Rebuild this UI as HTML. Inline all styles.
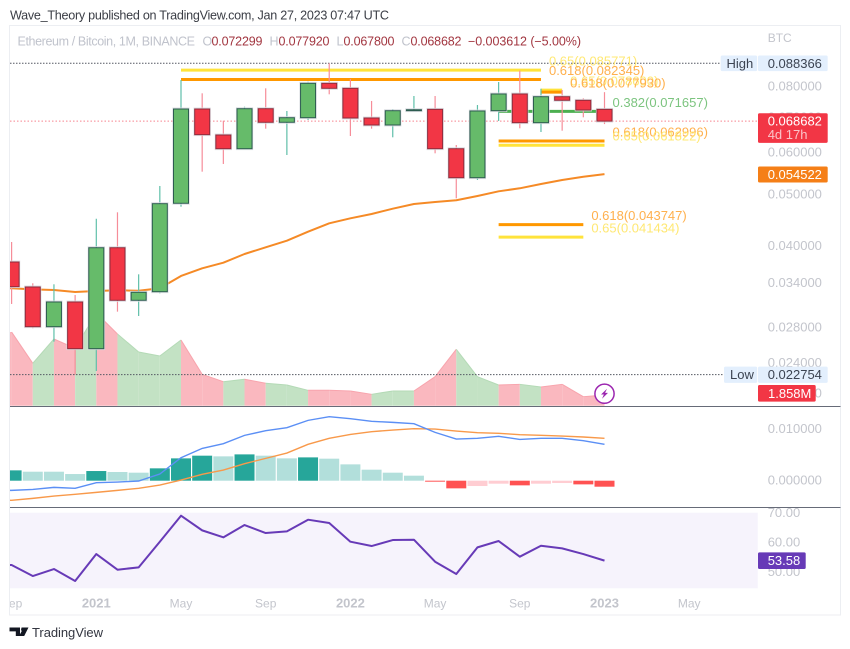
<!DOCTYPE html>
<html lang="en">
<head>
<meta charset="utf-8">
<title>Ethereum / Bitcoin chart</title>
<style>
html,body{margin:0;padding:0;background:#fff;width:850px;height:649px;overflow:hidden}
svg{display:block;font-family:"Liberation Sans",sans-serif;filter:blur(0.35px)}
</style>
</head>
<body>
<svg id="chart" xmlns="http://www.w3.org/2000/svg" width="850" height="649" viewBox="0 0 850 649">
  <defs>
    <clipPath id="pane-clip"><rect x="10" y="25" width="748" height="590"></rect></clipPath>
    <clipPath id="axis-clip"><rect x="10" y="590" width="748" height="25"></rect></clipPath>
  </defs>
  <rect x="0" y="0" width="850" height="649" fill="#ffffff"></rect>
  <text x="10" y="19.5" font-size="12.6" fill="#3a3d45" textLength="379" lengthAdjust="spacing">Wave_Theory published on TradingView.com, Jan 27, 2023 07:47 UTC</text>
  <rect x="9.5" y="25.5" width="831" height="589.5" fill="#ffffff" stroke="#eceef2"></rect>
  <rect x="10" y="512.7" width="747.7" height="75.6" fill="#f6f3fc"></rect>
  <g id="plots" clip-path="url(#pane-clip)"></g>
  <line x1="10" x2="840.5" y1="406.5" y2="406.5" stroke="#666b78" stroke-width="1"></line>
  <line x1="10" x2="840.5" y1="507.5" y2="507.5" stroke="#666b78" stroke-width="1"></line>
  <g id="axes"></g>
  <g font-size="12.5">
    <text x="17.5" y="45.5" fill="#c0c3cc" textLength="177.5" lengthAdjust="spacing">Ethereum / Bitcoin, 1M, BINANCE</text>
    <text x="202.5" y="45.5" fill="#c0c3cc">O</text>
    <text x="211.5" y="45.5" fill="#a23640" textLength="51">0.072299</text>
    <text x="269.5" y="45.5" fill="#c0c3cc">H</text>
    <text x="278.5" y="45.5" fill="#a23640" textLength="51">0.077920</text>
    <text x="336.5" y="45.5" fill="#c0c3cc">L</text>
    <text x="343.5" y="45.5" fill="#a23640" textLength="51">0.067800</text>
    <text x="401.5" y="45.5" fill="#c0c3cc">C</text>
    <text x="410.5" y="45.5" fill="#a23640" textLength="51">0.068682</text>
    <text x="468" y="45.5" fill="#a23640" textLength="113">−0.003612 (−5.00%)</text>
  </g>
  <g>
    <path d="M9.5 627.5h10.5v8.5h-4.2v-4.6h-6.3z M21.5 627.5h7l-4.3 8.5h-5.2l2.6-4.6z" fill="#131722"></path>
    <circle cx="23" cy="629.4" r="1.9" fill="#131722"></circle>
    <text x="32" y="637" font-size="13" fill="#333640" textLength="71" lengthAdjust="spacing">TradingView</text>
  </g>
</svg>
<script>
// ---- candle data (Sep 2020 .. Jan 2023, monthly) ----
const months = ['Sep20','Oct20','Nov20','Dec20','Jan21','Feb21','Mar21','Apr21','May21','Jun21','Jul21','Aug21','Sep21','Oct21','Nov21','Dec21','Jan22','Feb22','Mar22','Apr22','May22','Jun22','Jul22','Aug22','Sep22','Oct22','Nov22','Dec22','Jan23'];
const opens = [.03717,.03334,.02804,.03123,.02548,.03956,.03146,.03266,.04801,.07240,.06465,.06090,.07250,.06833,.06971,.08098,.07923,.06962,.06753,.07187,.07230,.06090,.05367,.07187,.07730,.06821,.07639,.07520,.072299];
const highs = [.04056,.03388,.03373,.03219,.04489,.04616,.03523,.05177,.08215,.07753,.06880,.07313,.07923,.07178,.08155,.08837,.08251,.07498,.07240,.07662,.07662,.06189,.07367,.08144,.08555,.07910,.07865,.07586,.07792];
const lows = [.03096,.02785,.02627,.02275,.02312,.02994,.02938,.03243,.04730,.05510,.05698,.06090,.06645,.05925,.06902,.07719,.06437,.06645,.06400,.07187,.05969,.04906,.05314,.06871,.06656,.06550,.06587,.06983,.06780];
const closes = [.03338,.02804,.03123,.02548,.03956,.03146,.03258,.04793,.07240,.06474,.06090,.07250,.06833,.06971,.08098,.07923,.06962,.06753,.07187,.07218,.06090,.05367,.07178,.07730,.06821,.07639,.07520,.07209,.068682];
const movingAverage = [.03315,.03300,.03290,.03262,.03276,.03286,.03280,.03315,.03498,.03617,.03706,.03849,.03963,.04079,.04242,.04400,.04497,.04582,.04689,.04786,.04828,.04864,.04956,.05058,.05125,.05222,.05314,.05390,.05452];
const volumes = [13.0,7.47,11.77,10.12,16.37,12.65,9.47,8.76,11.59,5.52,4.21,4.64,3.93,3.63,2.69,2.69,2.57,1.98,2.57,2.57,5.10,9.95,5.10,3.63,3.75,3.27,3.75,1.56,1.858];
// ---- MACD ----
const macdLine = [-.00187,-.00168,-.00129,-.00148,-.00039,-.00026,-.00006,.00129,.00445,.00625,.00716,.00877,.00967,.01025,.01167,.01238,.01199,.01148,.01128,.01103,.00935,.00806,.00819,.00858,.00799,.00819,.00819,.00774,.00703];
const signalLine = [-.00380,-.00342,-.00297,-.00264,-.00226,-.00187,-.00148,-.00084,.00013,.00123,.00206,.00329,.00432,.00535,.00703,.00819,.00896,.00948,.00980,.01006,.00999,.00961,.00928,.00916,.00890,.00877,.00864,.00845,.00819];
const macdHist = [.00200,.00174,.00174,.00129,.00187,.00168,.00155,.00239,.00432,.00484,.00471,.00509,.00484,.00432,.00451,.00426,.00316,.00213,.00155,.00097,-.00019,-.00148,-.00103,-.00058,-.00090,-.00058,-.00045,-.00071,-.00116];
// ---- RSI ----
const rsiValues = [52.09,48.36,50.73,46.67,55.82,50.51,51.30,60.0,68.81,63.84,61.47,65.65,62.94,63.50,67.46,66.33,60.0,58.53,60.56,60.68,53.22,49.04,58.08,60.23,54.92,58.64,57.74,55.82,53.58];
// ---- Fibonacci levels ----
const fibPrices = [.085771,.082345,.0786,.07793,.071657,.062996,.061822,.043747,.041434];
const fibLabels = ['0.65(0.085771)','0.618(0.082345)','0.65(0.078600)','0.618(0.077930)','0.382(0.071657)','0.618(0.062996)','0.65(0.061822)','0.618(0.043747)','0.65(0.041434)'];
const fibKinds = ['gold','orange','gold','orange','green','orange','gold','orange','gold'];
const fibStart = [8,8,25,25,23,23,23,23,23];
const fibEnd = [25,25,26,26,28,28,28,27,27];
// ---- axis labels ----
const priceTicks = [.08,.07,.06,.05,.04,.034,.028,.024,.021];
const macdTicks = [.01,0];
const rsiTicks = [70,60,50];
const timeTickIndex = [0,4,8,12,16,20,24,28,32];
const timeTickLabels = ['Sep','2021','May','Sep','2022','May','Sep','2023','May'];
const timeTickBold = [false,true,false,false,true,false,false,true,false];
const highPrice = 0.088366;
const lowPrice = 0.022754;
const lastPrice = 0.068682;
const maLast = 0.054522;
const lastVolume = 1.858;
const lastRsi = 53.58;

// ---- axis functions ----
const xAt = i => 11.6 + 21.175 * i;
const yPrice = p => 86.1 + 229.5 * Math.log(0.08 / p);
const yVol = v => 405.5 - 5.65 * v;
const yMacd = v => 480.7 - 5170 * v;
const yRsi = v => 541.7 - (v - 60) * 2.95;

const NS = 'http://www.w3.org/2000/svg';
const plots = document.getElementById('plots');
const axes = document.getElementById('axes');
function make(tag, parent, attrs) {
  const n = document.createElementNS(NS, tag);
  for (const k in attrs) n.setAttribute(k, attrs[k]);
  parent.appendChild(n);
  return n;
}
// the series continues past the left edge of the pane, so each line starts just off-screen
const linePath = (vals, yf) => 'M8 ' + yf(vals[0]).toFixed(2) + vals.map((v, i) => 'L' + xAt(i).toFixed(2) + ' ' + yf(v).toFixed(2)).join('');
let el;

// volume area, one segment per candle
el = make('path', plots, {d: `M8 405.8L8 ${yVol(volumes[0])}L${xAt(0)} ${yVol(volumes[0])}L${xAt(0)} 405.8Z`, fill: '#fab8bf'});


volumes.forEach((v, i) => {
  if (i === 0) return;
  const up = closes[i] >= opens[i];
  const x0 = xAt(i - 1), x1 = xAt(i);
  el = make('path', plots, {d: `M${x0} 405.8L${x0} ${yVol(volumes[i-1])}L${x1} ${yVol(v)}L${x1} 405.8Z`, fill: up ? '#c3e2c4' : '#fab8bf'});
  
  
  el = make('path', plots, {d: `M${x0} ${yVol(volumes[i-1])}L${x1} ${yVol(v)}`, fill: 'none', stroke: up ? '#b4dab6' : '#f8a4ad', 'stroke-width': 1});
  
  
});

// high / low / last price lines
el = make('line', plots, {x1: 10, x2: 721, y1: yPrice(highPrice), y2: yPrice(highPrice), stroke: '#555963', 'stroke-width': 1, 'stroke-dasharray': '1.5 1.5'});


el = make('line', plots, {x1: 10, x2: 724, y1: yPrice(lowPrice), y2: yPrice(lowPrice), stroke: '#555963', 'stroke-width': 1, 'stroke-dasharray': '1.5 1.5'});


el = make('line', plots, {x1: 10, x2: 758, y1: yPrice(lastPrice), y2: yPrice(lastPrice), stroke: '#f7848f', 'stroke-width': 1, 'stroke-dasharray': '1.5 2'});



// fib levels
const fibStroke = {gold: '#ffe33b', orange: '#ff9800', green: '#4caf50'};
const fibText = {gold: '#ffe873', orange: '#ffb04d', green: '#7cc47f'};
fibPrices.forEach((p, i) => {
  el = make('line', plots, {x1: xAt(fibStart[i]), x2: xAt(fibEnd[i]), y1: yPrice(p), y2: yPrice(p), stroke: fibStroke[fibKinds[i]], 'stroke-width': 3});
  
  
});

// moving average
el = make('path', plots, {d: linePath(movingAverage, yPrice), fill: 'none', stroke: '#f58a26', 'stroke-width': 2, 'stroke-linejoin': 'round'});



// candles
months.forEach((m, i) => {
  const up = closes[i] >= opens[i];
  const x = xAt(i);
  el = make('line', plots, {x1: x, x2: x, y1: yPrice(highs[i]), y2: yPrice(lows[i]), stroke: up ? '#5fbfa9' : '#f68d99', 'stroke-width': 1.2});
  
  
  const top = yPrice(Math.max(opens[i], closes[i]));
  const bot = yPrice(Math.min(opens[i], closes[i]));
  el = make('rect', plots, {x: x - 8.2, y: top - 1, width: 16.4, height: bot - top + 2, fill: 'none', stroke: '#d9dbe0', 'stroke-width': 0.8});
  
  
  el = make('rect', plots, {x: x - 7.5, y: top, width: 15, height: Math.max(bot - top, 0.6), fill: up ? '#66bb6a' : '#f23645', stroke: up ? '#2d5c50' : '#8e2c3c', 'stroke-width': 1});
  
  
});

// fib labels (above candles)
fibPrices.forEach((p, i) => {
  el = make('text', plots, {x: xAt(fibEnd[i]) + 8, y: yPrice(p) - 4.6, 'font-size': 13, fill: fibText[fibKinds[i]]});
  
  
  el.textContent = fibLabels[i];
});

// volume marker
el = make('circle', plots, {cx: xAt(28), cy: yVol(lastVolume) - 1.3, r: 9.6, fill: '#ffffff', stroke: '#9c27b0', 'stroke-width': 1.5});


const cxI = xAt(28), cyI = yVol(lastVolume) - 1.3;
el = make('path', plots, {d: `M${cxI+2.5} ${cyI-5}L${cxI-3.5} ${cyI+0.8}L${cxI-0.6} ${cyI+0.8}L${cxI-2.5} ${cyI+5}L${cxI+3.5} ${cyI-0.8}L${cxI+0.6} ${cyI-0.8}Z`, fill: '#9c27b0'});



// MACD histogram
macdHist.forEach((h, i) => {
  const prev = i ? macdHist[i - 1] : -1;
  const strong = h >= 0 ? h > prev : h < prev;
  const color = h >= 0 ? (strong ? '#26a69a' : '#b2dfdb') : (strong ? '#ff5252' : '#ffcdd2');
  const y0 = yMacd(Math.max(h, 0)), y1 = yMacd(Math.min(h, 0));
  el = make('rect', plots, {x: xAt(i) - 10, y: y0, width: 20, height: y1 - y0, fill: color});
  
  
});
el = make('path', plots, {d: linePath(signalLine, yMacd), fill: 'none', stroke: '#f8994a', 'stroke-width': 1.4});


el = make('path', plots, {d: linePath(macdLine, yMacd), fill: 'none', stroke: '#5b8ff5', 'stroke-width': 1.4});



// RSI
el = make('path', plots, {d: linePath(rsiValues, yRsi), fill: 'none', stroke: '#673ab7', 'stroke-width': 2, 'stroke-linejoin': 'round'});



// axis labels
const axisColor = '#c3c5cc';
priceTicks.forEach(t => {
  el = make('text', axes, {x: 767.7, y: yPrice(t) + 4.6, 'font-size': 13, fill: axisColor});
  
  
  el.textContent = t.toFixed(6);
});
macdTicks.forEach(t => {
  el = make('text', axes, {x: 767.7, y: yMacd(t) + 4, 'font-size': 13, fill: axisColor});
  
  
  el.textContent = t.toFixed(6);
});
rsiTicks.forEach(t => {
  el = make('text', axes, {x: 767.7, y: yRsi(t) + 4.6, 'font-size': 13, fill: axisColor});
  
  
  el.textContent = t.toFixed(2);
});
el = make('text', axes, {x: 767.7, y: 42, 'font-size': 12, fill: axisColor});


el.textContent = 'BTC';

const timeGroup = make('g', axes, {'clip-path': 'url(#axis-clip)'});


timeTickLabels.forEach((t, i) => {
  el = make('text', timeGroup, {x: xAt(timeTickIndex[i]), y: 607.5, 'text-anchor': 'middle', 'font-size': timeTickBold[i] ? 13 : 12, 'font-weight': timeTickBold[i] ? 'bold' : 'normal', fill: axisColor});
  
  
  el.textContent = t;
});

// price-axis tags
function tagRect(x, y, w, h, fill) {
  return make('rect', axes, {x: x, y: y, width: w, height: h, rx: 1.5, fill: fill});
}
function tagText(x, y, s, fill) {
  const t = make('text', axes, {x: x, y: y, 'font-size': 13, fill: fill});
  t.textContent = s;
  return t;
}
const yHi = yPrice(highPrice), yLo = yPrice(lowPrice), yLast = yPrice(lastPrice), yMa = yPrice(maLast), yRs = yRsi(lastRsi), yV = yVol(lastVolume);

el = tagRect(720.7, yHi - 7.8, 36.5, 15.6, '#e3effd');


el = tagRect(758, yHi - 7.8, 69.7, 15.6, '#e3effd');


el = tagText(726.5, yHi + 4.6, 'High', '#3c4452');


el = tagText(767.7, yHi + 4.6, highPrice.toFixed(6), '#3c4452');



el = tagRect(724, yLo - 8, 33.2, 16.2, '#e3effd');


el = tagRect(758, yLo - 8, 69.7, 16.2, '#e3effd');


el = tagText(730, yLo + 4.6, 'Low', '#3c4452');


el = tagText(767.7, yLo + 4.6, lowPrice.toFixed(6), '#3c4452');



el = tagRect(758, yLast - 7.8, 69.7, 29.6, '#f23645');


el = tagText(767.7, yLast + 4.4, lastPrice.toFixed(6), '#ffffff');


el = tagText(767.7, yLast + 18, '4d 17h', '#fbc3c8');



el = tagRect(758, yMa - 7.6, 69.7, 16, '#f57f17');


el = tagText(767.7, yMa + 4.8, maLast.toFixed(6), '#ffffff');



el = tagRect(758, yV - 10, 57.7, 16.6, '#f23645');


el = tagText(768, yV + 3, lastVolume.toFixed(3) + 'M', '#ffffff');



el = tagRect(758, yRs - 8.3, 47.7, 16.7, '#673ab7');


el = tagText(767.7, yRs + 4.6, lastRsi.toFixed(2), '#ffffff');


</script>
</body>
</html>
